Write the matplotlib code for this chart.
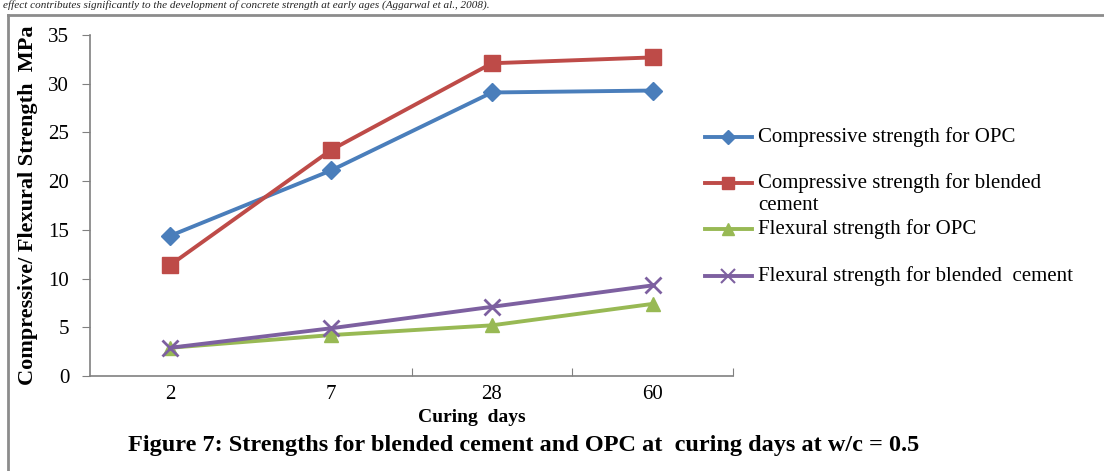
import matplotlib
matplotlib.use("Agg")
import matplotlib.pyplot as plt
from matplotlib.lines import Line2D

# curing days (category axis)
days = ["2", "7", "28", "60"]

comp_opc = [14.4, 21.1, 29.1, 29.3]
comp_blended = [11.4, 23.2, 32.1, 32.7]
flex_opc = [2.9, 4.2, 5.2, 7.4]
flex_blended = [2.9, 4.9, 7.1, 9.3]

labels = ["Compressive strength for OPC",
          "Compressive strength for blended\ncement",
          "Flexural strength for OPC",
          "Flexural strength for blended  cement"]
colors = ["#4A7EBB", "#BE4B48", "#98B954", "#7D60A0"]
markers = ["D", "s", "^", "x"]
msizes = [9, 11, 10, 12]

plt.rcParams['font.family'] = ['Liberation Serif', 'DejaVu Serif']

fig = plt.figure(figsize=(11.04, 4.71), dpi=100)
ax = fig.add_axes([90 / 1104, 1 - 376 / 471, (733 - 90) / 1104, (376 - 35) / 471])

x = list(range(len(days)))
series = [comp_opc, comp_blended, flex_opc, flex_blended]
for vals, c, m, ms in zip(series, colors, markers, msizes):
    ax.plot(x, vals, color=c, marker=m, markersize=ms, linewidth=2.8,
            markeredgewidth=2 if m == "x" else 1, markeredgecolor=c)

ax.set_xlim(-0.5, 3.5)
ax.set_ylim(0, 35)
ax.set_yticks(range(0, 36, 5))
ax.set_xticks([1.5, 2.5, 3.5])
ax.set_xticklabels([])
ax.tick_params(axis='x', length=6, color='#808080', direction='in')
ax.tick_params(axis='y', length=6, color='#808080', labelsize=15, pad=9)
for i, d in enumerate(days):
    ax.text(i, -1.9, d, ha='center', va='center', fontsize=15)
for s in ['top', 'right']:
    ax.spines[s].set_visible(False)
for s in ['left', 'bottom']:
    ax.spines[s].set_color('#808080')
    ax.spines[s].set_linewidth(1.2)

fig.text(472 / 1104, 1 - 417 / 471, "Curing  days", ha='center', va='center',
         fontsize=14, fontweight='bold')
fig.text(28 / 1104, 1 - 205 / 471, "Compressive/ Flexural Strength  MPa", rotation=90,
         ha='center', va='center', fontsize=16, fontweight='bold')

# legend drawn by hand so the wrapped label hangs below its key
ys = [137, 183, 229, 276]
for yy, lab, c, m, ms in zip(ys, labels, colors, markers, msizes):
    yf = 1 - yy / 471
    fig.add_artist(Line2D([705 / 1104, 752 / 1104], [yf, yf], transform=fig.transFigure,
                          color=c, linewidth=2.8))
    fig.add_artist(Line2D([728 / 1104], [yf], transform=fig.transFigure, color=c,
                          marker=m, markersize=ms * 0.8, markeredgecolor=c,
                          markeredgewidth=1.5 if m == "x" else 1))
    for k, line in enumerate(lab.split("\n")):
        fig.text(758 / 1104, yf - k * 23 / 471, line, ha='left', va='center', fontsize=15)

fig.text(128 / 1104, 1 - 446 / 471,
         "Figure 7: Strengths for blended cement and OPC at  curing days at w/c = 0.5",
         ha='left', va='center', fontsize=17.5, fontweight='bold')

# line of body text above the figure (cut off in the source scan)
fig.text(0.003, 1 - 5 / 471,
         "effect contributes significantly to the development of concrete strength at early ages (Aggarwal et al., 2008).",
         ha='left', va='center', fontsize=8, style='italic', color='#222222')

# page frame
fig.add_artist(Line2D([8 / 1104, 1.0], [1 - 15 / 471, 1 - 15 / 471], transform=fig.transFigure,
                      color='#8c8c8c', linewidth=2))
fig.add_artist(Line2D([8 / 1104, 8 / 1104], [1 - 15 / 471, 0.0], transform=fig.transFigure,
                      color='#8c8c8c', linewidth=2))

fig.savefig("out.png", dpi=100)
